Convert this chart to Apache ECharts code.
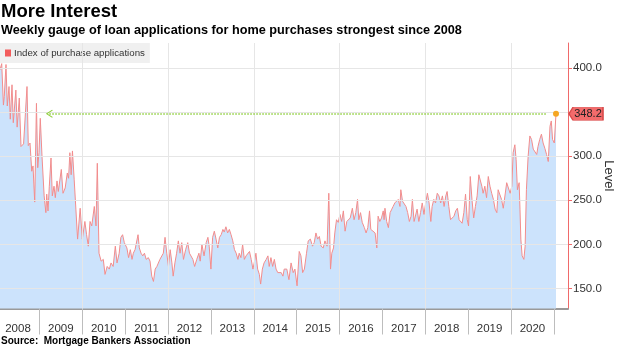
<!DOCTYPE html>
<html><head><meta charset="utf-8">
<script src="https://cdn.jsdelivr.net/npm/echarts@6/dist/echarts.min.js"></script>
<style>html,body{margin:0;padding:0;background:#fff}#c{width:620px;height:348px}</style>
</head><body><div id="c"></div>
<script>
// Weekly MBA purchase index (x in decimal years)
const years = [
2008.08,2008.12,2008.16,2008.18,2008.22,2008.25,2008.29,2008.32,2008.36,2008.39,2008.45,2008.48,2008.53,2008.57,2008.63,2008.67,2008.71,2008.74,2008.78,2008.82,2008.85,2008.89,2008.93,2008.96,2008.99,
2009.02,2009.06,2009.08,2009.11,2009.15,2009.17,2009.20,2009.23,2009.27,2009.30,2009.34,2009.37,2009.41,2009.44,2009.51,2009.55,2009.60,2009.65,2009.68,2009.71,2009.74,2009.77,2009.81,2009.85,2009.89,2009.95,
2010.00,2010.06,2010.10,2010.14,2010.18,2010.22,2010.28,2010.32,2010.35,2010.39,2010.44,2010.49,2010.53,2010.58,2010.63,2010.67,2010.72,2010.77,2010.81,2010.86,2010.90,2010.94,2010.98,
2011.04,2011.08,2011.12,2011.16,2011.19,2011.23,2011.30,2011.33,2011.37,2011.41,2011.45,2011.49,2011.54,2011.58,2011.62,2011.66,2011.70,2011.74,2011.78,2011.81,2011.85,2011.89,2011.93,2011.97,
2012.01,2012.05,2012.09,2012.12,2012.16,2012.20,2012.24,2012.28,2012.32,2012.36,2012.41,2012.46,2012.50,2012.58,2012.62,2012.67,2012.72,2012.75,2012.79,2012.84,2012.89,2012.93,2012.96,
2013.00,2013.04,2013.08,2013.12,2013.16,2013.20,2013.24,2013.28,2013.31,2013.35,2013.39,2013.43,2013.47,2013.51,2013.55,2013.59,2013.63,2013.66,2013.70,2013.74,2013.78,2013.82,2013.86,2013.90,2013.94,2013.98,
2014.01,2014.05,2014.09,2014.13,2014.16,2014.20,2014.24,2014.29,2014.33,2014.36,2014.40,2014.44,2014.48,2014.52,2014.56,2014.60,2014.64,2014.68,2014.71,2014.77,2014.82,2014.87,2014.92,2014.96,
2015.01,2015.06,2015.10,2015.14,2015.18,2015.23,2015.27,2015.32,2015.37,2015.41,2015.45,2015.49,2015.53,2015.57,2015.62,2015.66,2015.71,2015.75,2015.79,2015.82,2015.86,2015.89,2015.93,2015.97,
2016.01,2016.05,2016.09,2016.13,2016.17,2016.21,2016.25,2016.30,2016.34,2016.38,2016.42,2016.45,2016.49,2016.53,2016.58,2016.62,2016.66,2016.70,2016.73,2016.77,2016.83,2016.87,2016.90,2016.94,2016.98,
2017.02,2017.04,2017.06,2017.10,2017.14,2017.18,2017.22,2017.25,2017.29,2017.33,2017.37,2017.41,2017.43,2017.47,2017.51,2017.55,2017.59,2017.63,2017.67,2017.70,2017.74,2017.78,2017.81,2017.85,2017.89,2017.93,2017.97,
2018.01,2018.05,2018.09,2018.13,2018.16,2018.20,2018.24,2018.28,2018.32,2018.36,2018.40,2018.44,2018.48,2018.51,2018.55,2018.59,2018.63,2018.67,2018.71,2018.75,2018.79,2018.83,2018.86,2018.90,2018.94,2018.98,
2019.01,2019.05,2019.09,2019.13,2019.17,2019.21,2019.25,2019.28,2019.32,2019.35,2019.39,2019.43,2019.47,2019.51,2019.55,2019.59,2019.63,2019.67,2019.70,2019.74,2019.78,2019.82,2019.86,2019.90,2019.94,2019.98,
2020.02,2020.05,2020.09,2020.12,2020.15,2020.19,2020.21,2020.23,2020.26,2020.30,2020.33,2020.36,2020.40,2020.44,2020.48,2020.52,2020.56,2020.60,2020.63,2020.67,2020.71,2020.75,2020.79,2020.83,2020.87,2020.91,2020.94,2020.97,
2021.01,2021.05
];
const values = [
398,405,358,368,404,357,379,342,381,338,375,333,366,311,314,312,379,312,315,283,289,248,360,287,304,
343,300,302,255,236,257,238,266,298,255,266,253,272,260,285,258,264,281,275,304,279,306,274,240,206,241,
206,226,211,198,226,221,243,221,292,190,181,183,166,175,172,179,175,198,179,190,208,211,202,
196,185,194,183,190,194,211,196,190,187,190,183,185,181,164,158,172,175,174,183,183,190,208,190,
175,194,179,164,179,190,204,190,202,183,194,202,190,183,175,183,190,181,200,187,202,208,198,
172,208,215,206,196,208,211,217,214,220,213,217,211,204,194,190,183,190,185,200,183,187,185,192,183,172,
179,190,172,166,155,172,179,183,187,175,185,175,183,172,168,166,168,164,172,172,160,179,168,172,
153,192,187,168,172,190,204,206,198,202,213,206,209,198,196,204,198,258,172,190,196,213,228,225,
234,226,238,215,226,224,230,241,228,236,251,228,236,225,219,213,219,238,217,215,213,196,232,226,230,
238,228,241,226,219,236,240,243,247,245,251,243,262,249,247,243,236,226,232,251,226,228,240,226,236,247,234,
247,258,247,226,243,251,247,258,255,247,255,243,255,260,243,228,230,232,238,241,228,226,224,236,257,228,
221,277,251,230,243,255,279,281,266,258,266,253,277,266,258,251,240,236,262,262,251,241,243,270,268,258,
266,304,313,296,262,270,240,206,187,183,198,262,300,323,319,308,309,302,311,319,325,315,309,302,294,334,340,319,
315,348.2
];
const yearTicks = [2009,2010,2011,2012,2013,2014,2015,2016,2017,2018,2019,2020,2021];
const yearLabels = [2008,2009,2010,2011,2012,2013,2014,2015,2016,2017,2018,2019,2020];
const gridYears = [2010,2012,2014,2016,2018,2020];
const yTicks = [150,200,250,300,350,400];
const yLabels = [150,200,250,300,400];
const lastValue = 348.2;
const refLineFrom = 2009.23, refLineTo = 2020.83;
const seriesName = 'Index of purchase applications';

const F = 'Liberation Sans';
const chart = echarts.init(document.getElementById('c'));
const last = years.length - 1;
const gridStyle = {color:'#e6e6e6', width:1, type:'solid'};
chart.setOption({
  animation:false,
  textStyle:{fontFamily:F},
  title:[
    {text:'More Interest', left:1, top:2, padding:0, textStyle:{fontFamily:F, fontSize:18.5, fontWeight:'bold', color:'#000'}},
    {text:'Weekly gauge of loan applications for home purchases strongest since 2008', left:1, top:24, padding:0, textStyle:{fontFamily:F, fontSize:12.7, fontWeight:'bold', color:'#000'}},
    {text:'Source:  Mortgage Bankers Association', left:1, top:336, padding:0, textStyle:{fontFamily:F, fontSize:10, fontWeight:'bold', color:'#000'}}
  ],
  legend:{left:0, top:43, padding:[5,5,5,5], backgroundColor:'#f0f0f0', itemWidth:6, itemHeight:7, icon:'rect',
    textStyle:{fontFamily:F, fontSize:9.7, color:'#333', padding:[0,0,0,-2]}, data:[seriesName]},
  grid:{left:0, right:52, top:43, bottom:39.5, outerBoundsMode:'none', containLabel:false},
  xAxis:{type:'value', min:years[0], max:2021.33,
    axisLine:{show:true, lineStyle:{color:'#9a9a9a', width:2}},
    axisTick:{show:true, customValues:yearTicks, length:26, lineStyle:{color:'#bdbdbd'}},
    axisLabel:{customValues:yearLabels.map(y=>y+0.5), formatter:v=>String(Math.floor(v)), fontFamily:F, fontSize:11.5, color:'#333', margin:14},
    splitLine:{show:false}},
  yAxis:{type:'value', position:'right', min:127.3, max:428.4,
    axisLine:{show:true, lineStyle:{color:'#f06a6a'}},
    axisTick:{show:true, customValues:yTicks, length:4, lineStyle:{color:'#f06a6a'}},
    axisLabel:{customValues:yLabels, formatter:v=>v.toFixed(1), fontFamily:F, fontSize:11.5, color:'#333', margin:5},
    splitLine:{show:false},
    name:'Level', nameLocation:'middle', nameGap:34, nameMoveOverlap:false, nameRotate:-90,
    nameTextStyle:{fontFamily:F, fontSize:13, color:'#333'}},
  series:[{
    type:'line', name:seriesName, data:years.map((y,i)=>[y, values[i]]), symbol:'none', clip:false,
    itemStyle:{color:'#f25c5c'}, lineStyle:{color:'#f28c8c', width:1}, areaStyle:{color:'#cce3fc', opacity:1},
    markLine:{silent:true, animation:false, symbol:['none','none'], label:{show:false}, emphasis:{disabled:true},
      data:[
        ...gridYears.map(x=>({xAxis:x, lineStyle:gridStyle})),
        ...yTicks.map(v=>({yAxis:v, lineStyle:gridStyle})),
        [{coord:[refLineFrom, lastValue], symbol:'path://M0,9 L5,0 L10,9 L9,10 L5,2.6 L1,10 Z', symbolSize:[8,7],
          lineStyle:{color:'#8fcf3c', width:1.5, type:'dotted'}},
         {coord:[refLineTo, lastValue], symbol:'none'}]
      ]},
    markPoint:{silent:true, animation:false, data:[
      {coord:[years[last], lastValue], symbol:'circle', symbolSize:6, itemStyle:{color:'#f5a623'}, label:{show:false}},
      {coord:[years[last], lastValue], symbol:'path://M0,6 L4,0 L34,0 L34,12 L4,12 Z', symbolSize:[34,13], symbolKeepAspect:false,
        symbolOffset:[30,0], itemStyle:{color:'#f36b6b', borderColor:'#d84a4a', borderWidth:1},
        label:{show:true, position:'inside', formatter:lastValue.toFixed(1), color:'#222', fontFamily:F, fontSize:11, offset:[2,0]}}
    ]}
  }]
});
</script></body></html>
